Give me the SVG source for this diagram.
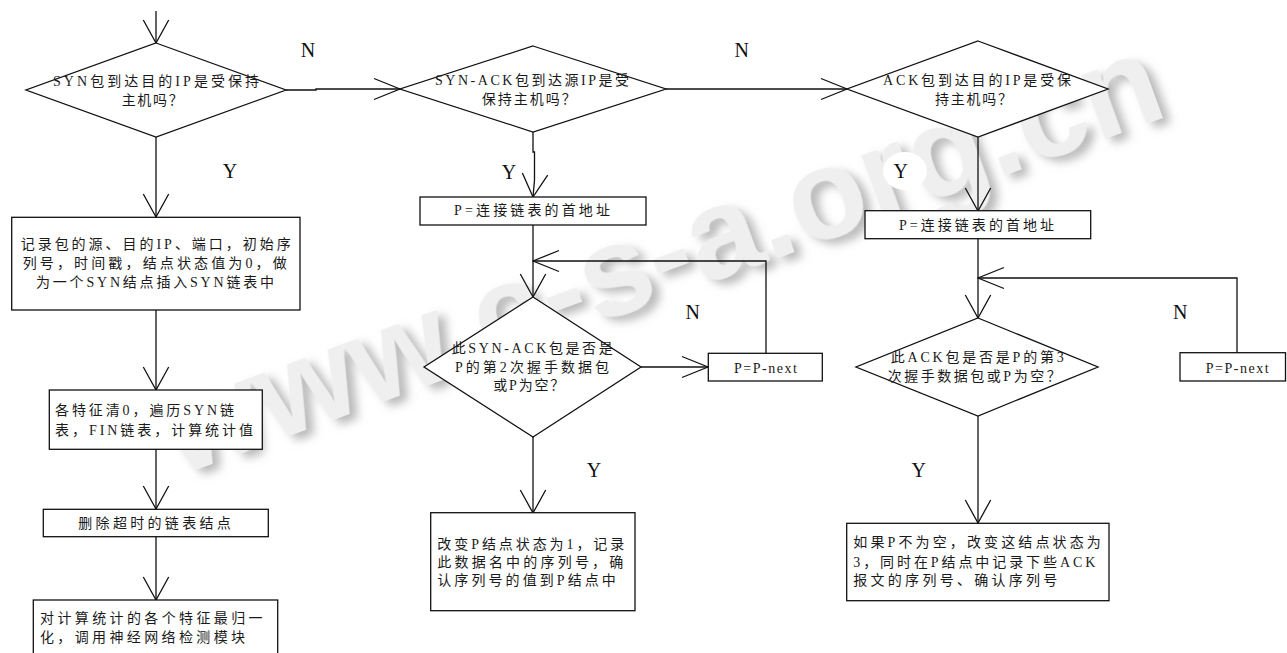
<svg xmlns="http://www.w3.org/2000/svg" width="1287" height="653" viewBox="0 0 1287 653">
<style>
.ln{fill:none;stroke:#111;stroke-width:1.3}
.nd{fill:#fff;stroke:#111;stroke-width:1.3}
.t{font-family:"Liberation Serif","Noto Sans CJK SC",serif;font-size:14px;fill:#1a1a1a}
.lb{font-family:"Liberation Serif",serif;font-size:20px;fill:#111;text-anchor:middle}
.wm{font-family:"Liberation Sans",sans-serif;font-size:128px;font-weight:bold;fill:#efefef}
</style>
<defs>
<marker id="ah" viewBox="-28 -12 29 24" markerWidth="29" markerHeight="24" refX="0" refY="0" orient="auto" markerUnits="userSpaceOnUse">
<path d="M-26,-10.5 L0,0 L-26,10.5" fill="none" stroke="#111" stroke-width="1.3"/>
</marker>
<marker id="av" viewBox="-25 -14 26 28" markerWidth="26" markerHeight="28" refX="0" refY="0" orient="auto" markerUnits="userSpaceOnUse">
<path d="M-23,-12.7 L0,0 L-23,12.7" fill="none" stroke="#111" stroke-width="1.3"/>
</marker>
<filter id="wmf" x="-10%" y="-30%" width="120%" height="160%">
<feGaussianBlur in="SourceAlpha" stdDeviation="5" result="b"/>
<feOffset in="b" dx="6" dy="7" result="o"/>
<feFlood flood-color="#8a8a8a" flood-opacity="0.6"/>
<feComposite in2="o" operator="in" result="s"/>
<feMerge><feMergeNode in="s"/><feMergeNode in="SourceGraphic"/></feMerge>
</filter>
</defs>

<g id="watermark">
<text class="wm" x="0" y="0" transform="translate(179,476) rotate(-20)" filter="url(#wmf)">www.c-s-a.org.cn</text>
</g>

<g id="connectors">
<line class="ln" x1="156" y1="11" x2="156" y2="43" marker-end="url(#av)"/>
<polyline class="ln" points="286,90 316,90 316,89 400,89" marker-end="url(#ah)"/>
<line class="ln" x1="666" y1="89" x2="847" y2="89" marker-end="url(#ah)"/>
<line class="ln" x1="156" y1="137" x2="156" y2="217" marker-end="url(#av)"/>
<polyline class="ln" points="533,132 533,152 534.5,152 534.5,180 533,197" marker-end="url(#av)"/>
<line class="ln" x1="978" y1="137" x2="978" y2="211" marker-end="url(#av)"/>
<line class="ln" x1="156" y1="310" x2="156" y2="390" marker-end="url(#av)"/>
<line class="ln" x1="156" y1="449" x2="156" y2="509" marker-end="url(#av)"/>
<line class="ln" x1="156" y1="537" x2="156" y2="600" marker-end="url(#av)"/>
<line class="ln" x1="533" y1="225" x2="533" y2="297" marker-end="url(#av)"/>
<polyline class="ln" points="766,353 766,261 533,261" marker-end="url(#ah)"/>
<line class="ln" x1="641" y1="367" x2="708" y2="367" marker-end="url(#ah)"/>
<line class="ln" x1="533" y1="437" x2="533" y2="513" marker-end="url(#av)"/>
<line class="ln" x1="978" y1="239" x2="978" y2="318" marker-end="url(#av)"/>
<polyline class="ln" points="1237,353 1237,278 978,278" marker-end="url(#ah)"/>
<line class="ln" x1="978" y1="416" x2="978" y2="523" marker-end="url(#av)"/>
</g>

<g id="d1">
<polygon class="nd" points="156,43 286,90 156,137 26,90"/>
<text class="t" x="53" y="86" textLength="206" lengthAdjust="spacing">SYN包到达目的IP是受保持</text>
<text class="t" x="121.7" y="104.5" textLength="61" lengthAdjust="spacing">主机吗？</text>
</g>
<g id="d2">
<polygon class="nd" points="533,46 666,89 533,132 400,89"/>
<text class="t" x="435" y="85" textLength="194" lengthAdjust="spacing">SYN-ACK包到达源IP是受</text>
<text class="t" x="481.7" y="104" textLength="94" lengthAdjust="spacing">保持主机吗？</text>
</g>
<g id="d3">
<polygon class="nd" points="978,41 1108,89 978,137 847,89"/>
<text class="t" x="883" y="84.5" textLength="188" lengthAdjust="spacing">ACK包到达目的IP是受保</text>
<text class="t" x="935" y="103.5" textLength="77" lengthAdjust="spacing">持主机吗？</text>
</g>

<g id="b1">
<rect class="nd" x="11.7" y="217.3" width="288.3" height="92.7"/>
<text class="t" x="20.7" y="248.5" textLength="270" lengthAdjust="spacing">记录包的源、目的IP、端口，初始序</text>
<text class="t" x="22.7" y="268" textLength="264" lengthAdjust="spacing">列号，时间戳，结点状态值为0，做</text>
<text class="t" x="36" y="286.5" textLength="238" lengthAdjust="spacing">为一个SYN结点插入SYN链表中</text>
</g>
<g id="b2">
<rect class="nd" x="49.3" y="390" width="213" height="59.3"/>
<text class="t" x="55" y="414.5" textLength="179" lengthAdjust="spacing">各特征清0，遍历SYN链</text>
<text class="t" x="55" y="434.5" textLength="198" lengthAdjust="spacing">表，FIN链表，计算统计值</text>
</g>
<g id="b3">
<rect class="nd" x="43.3" y="509.3" width="225" height="27.4"/>
<text class="t" x="78.3" y="528" textLength="152.5" lengthAdjust="spacing">删除超时的链表结点</text>
</g>
<g id="b4">
<rect class="nd" x="33.3" y="600" width="244.4" height="62"/>
<text class="t" x="40" y="623" textLength="222.5" lengthAdjust="spacing">对计算统计的各个特征最归一</text>
<text class="t" x="40" y="642" textLength="205" lengthAdjust="spacing">化，调用神经网络检测模块</text>
</g>

<g id="m1">
<rect class="nd" x="420" y="197" width="226" height="28"/>
<text class="t" x="454" y="215" textLength="156" lengthAdjust="spacing">P=连接链表的首地址</text>
</g>
<g id="d5">
<polygon class="nd" points="533,297 641,367 533,437 424,367"/>
<text class="t" x="451.7" y="353" textLength="161" lengthAdjust="spacing">此SYN-ACK包是否是</text>
<text class="t" x="455" y="372" textLength="154" lengthAdjust="spacing">P的第2次握手数据包</text>
<text class="t" x="493.3" y="390" textLength="71" lengthAdjust="spacing">或P为空？</text>
</g>
<g id="m2">
<rect class="nd" x="708.3" y="353.3" width="114" height="27.7"/>
<text class="t" x="734" y="372.7" textLength="63" lengthAdjust="spacing">P=P-next</text>
</g>
<g id="m3">
<rect class="nd" x="430.7" y="512.7" width="204.3" height="98"/>
<text class="t" x="437.3" y="548.5" textLength="187" lengthAdjust="spacing">改变P结点状态为1，记录</text>
<text class="t" x="437.3" y="567" textLength="186" lengthAdjust="spacing">此数据名中的序列号，确</text>
<text class="t" x="437.3" y="585" textLength="178.5" lengthAdjust="spacing">认序列号的值到P结点中</text>
</g>

<g id="r1">
<rect class="nd" x="865" y="210.7" width="225.7" height="28"/>
<text class="t" x="899" y="230" textLength="155" lengthAdjust="spacing">P=连接链表的首地址</text>
</g>
<g id="d4">
<polygon class="nd" points="978,318 1098,367 978,416 856,367"/>
<text class="t" x="890.7" y="362" textLength="173" lengthAdjust="spacing">此ACK包是否是P的第3</text>
<text class="t" x="887.7" y="381" textLength="173" lengthAdjust="spacing">次握手数据包或P为空？</text>
</g>
<g id="r2">
<rect class="nd" x="1180" y="352.7" width="105.5" height="28.3"/>
<text class="t" x="1205.7" y="372.7" textLength="63" lengthAdjust="spacing">P=P-next</text>
</g>
<g id="r3">
<rect class="nd" x="846.7" y="523.3" width="262.3" height="77.4"/>
<text class="t" x="853.3" y="547" textLength="247.5" lengthAdjust="spacing">如果P不为空，改变这结点状态为</text>
<text class="t" x="853.3" y="567" textLength="242" lengthAdjust="spacing">3，同时在P结点中记录下些ACK</text>
<text class="t" x="853.3" y="585" textLength="204" lengthAdjust="spacing">报文的序列号、确认序列号</text>
</g>

<g id="labels">
<ellipse cx="905" cy="171" rx="22" ry="19" fill="#fff"/>
<text class="lb" x="308" y="56.7">N</text>
<text class="lb" x="741.7" y="56.7">N</text>
<text class="lb" x="692.7" y="319.3">N</text>
<text class="lb" x="1180.3" y="319">N</text>
<text class="lb" x="230" y="178.3">Y</text>
<text class="lb" x="509" y="179">Y</text>
<text class="lb" x="900.7" y="178.3">Y</text>
<text class="lb" x="594" y="476.7">Y</text>
<text class="lb" x="918.8" y="477.3">Y</text>
</g>
</svg>
